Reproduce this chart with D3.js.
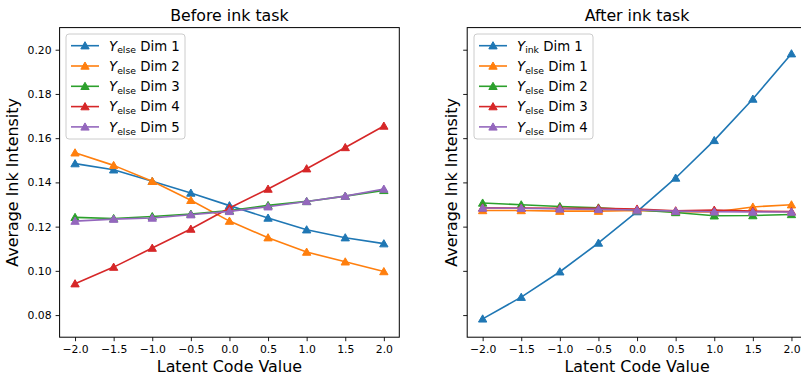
<!DOCTYPE html>
<html>
<head>
<meta charset="utf-8">
<script src="https://cdn.jsdelivr.net/npm/d3@7"></script>
<style>
  body { margin: 0; background: #fff; }
  svg { display: block; font-family: "DejaVu Sans", sans-serif; }
</style>
</head>
<body>
<svg id="chart" width="801" height="377"></svg>
<script>
// ---- data ----
const latent = [-2.0, -1.5, -1.0, -0.5, 0.0, 0.5, 1.0, 1.5, 2.0];
const xTicks = [-2.0, -1.5, -1.0, -0.5, 0.0, 0.5, 1.0, 1.5, 2.0];
const yTicks = [0.08, 0.10, 0.12, 0.14, 0.16, 0.18, 0.20];
const colors = ["#1f77b4", "#ff7f0e", "#2ca02c", "#d62728", "#9467bd"];

// Before ink task
const beforeElse1 = [0.1485, 0.1457, 0.1405, 0.1352, 0.1295, 0.1239, 0.1186, 0.1150, 0.1123];
const beforeElse2 = [0.1534, 0.1477, 0.1405, 0.1319, 0.1225, 0.1150, 0.1085, 0.1041, 0.0997];
const beforeElse3 = [0.1242, 0.1237, 0.1246, 0.1257, 0.1273, 0.1296, 0.1314, 0.1338, 0.1364];
const beforeElse4 = [0.0942, 0.1017, 0.1103, 0.1189, 0.1284, 0.1370, 0.1462, 0.1558, 0.1655];
const beforeElse5 = [0.1225, 0.1234, 0.1239, 0.1254, 0.1269, 0.1290, 0.1314, 0.1338, 0.1370];
const beforeLabels = [["Y", "else", " Dim 1"], ["Y", "else", " Dim 2"], ["Y", "else", " Dim 3"], ["Y", "else", " Dim 4"], ["Y", "else", " Dim 5"]];

// After ink task
const afterInk1  = [0.0783, 0.0881, 0.0996, 0.1126, 0.1268, 0.1420, 0.1590, 0.1777, 0.1982];
const afterElse1 = [0.1273, 0.1273, 0.1270, 0.1270, 0.1273, 0.1268, 0.1266, 0.1289, 0.1299];
const afterElse2 = [0.1307, 0.1299, 0.1291, 0.1285, 0.1275, 0.1264, 0.1249, 0.1250, 0.1255];
const afterElse3 = [0.1285, 0.1284, 0.1283, 0.1283, 0.1280, 0.1272, 0.1275, 0.1270, 0.1268];
const afterElse4 = [0.1284, 0.1283, 0.1280, 0.1278, 0.1275, 0.1270, 0.1267, 0.1266, 0.1266];
const afterLabels = [["Y", "ink", " Dim 1"], ["Y", "else", " Dim 1"], ["Y", "else", " Dim 2"], ["Y", "else", " Dim 3"], ["Y", "else", " Dim 4"]];

const panels = [
  { title: "Before ink task", series: [beforeElse1, beforeElse2, beforeElse3, beforeElse4, beforeElse5], labels: beforeLabels, left: 59.6, showYLabels: true, yLabelX: 18, legendX: 66 },
  { title: "After ink task", series: [afterInk1, afterElse1, afterElse2, afterElse3, afterElse4], labels: afterLabels, left: 467.2, showYLabels: false, yLabelX: 456.5, legendX: 474 }
];

const svg = d3.select("#chart");
const W = 339.7, plotTop = 27.6, plotBottom = 337.2;
const y = d3.scaleLinear().domain([0.07, 0.21]).range([plotBottom, plotTop]);
const fmtX = d => d3.format(".1f")(d).replace("-", "\u2212");
const fmtY = d3.format(".2f");
const tri = d3.symbol().type(d3.symbolTriangle).size(30);

panels.forEach(p => {
  const x = d3.scaleLinear().domain([-2.2, 2.2]).range([p.left, p.left + W]);
  const g = svg.append("g");

  // x axis
  const xa = g.append("g").attr("transform", `translate(0,${plotBottom})`)
    .call(d3.axisBottom(x).tickValues(xTicks).tickSize(4).tickPadding(4).tickFormat(fmtX));
  xa.select(".domain").remove();
  xa.selectAll("line").attr("stroke", "#000").attr("stroke-width", 0.9);
  xa.selectAll("text").attr("font-size", 10.8).attr("fill", "#000").attr("font-family", "DejaVu Sans");

  // y axis
  const ya = g.append("g").attr("transform", `translate(${p.left},0)`)
    .call(d3.axisLeft(y).tickValues(yTicks).tickSize(4).tickPadding(4).tickFormat(p.showYLabels ? fmtY : () => ""));
  ya.select(".domain").remove();
  ya.selectAll("line").attr("stroke", "#000").attr("stroke-width", 0.9);
  ya.selectAll("text").attr("font-size", 10.8).attr("fill", "#000").attr("font-family", "DejaVu Sans");

  // series
  p.series.forEach((vals, i) => {
    const pts = latent.map((v, k) => [x(v), y(vals[k])]);
    g.append("path").attr("d", d3.line()(pts)).attr("fill", "none")
      .attr("stroke", colors[i]).attr("stroke-width", 1.6).attr("stroke-linejoin", "round");
    g.selectAll(null).data(pts).enter().append("path")
      .attr("d", tri).attr("transform", d => `translate(${d[0]},${d[1] + 0.8})`)
      .attr("fill", colors[i]).attr("stroke", colors[i]).attr("stroke-width", 1);
  });

  // frame
  g.append("rect").attr("x", p.left).attr("y", plotTop).attr("width", W).attr("height", plotBottom - plotTop)
    .attr("fill", "none").attr("stroke", "#000").attr("stroke-width", 1);

  // title & labels
  const cx = p.left + W / 2;
  svg.append("text").attr("x", cx).attr("y", 21).attr("text-anchor", "middle")
    .attr("font-size", 15.8).text(p.title);
  svg.append("text").attr("x", cx).attr("y", 371.7).attr("text-anchor", "middle")
    .attr("font-size", 15.9).text("Latent Code Value");
  svg.append("text").attr("transform", `translate(${p.yLabelX},${(plotTop + plotBottom) / 2}) rotate(-90)`)
    .attr("text-anchor", "middle").attr("font-size", 15.9).text("Average Ink Intensity");

  // legend
  const lx = p.legendX, ly = 34, lw = 119, lh = 105, rowH = 20.3;
  const lg = svg.append("g");
  lg.append("rect").attr("x", lx).attr("y", ly).attr("width", lw).attr("height", lh)
    .attr("rx", 3).attr("fill", "#fff").attr("fill-opacity", 0.8).attr("stroke", "#ccc").attr("stroke-width", 1);
  p.labels.forEach((lab, i) => {
    const ry = ly + 11.7 + i * rowH;
    lg.append("line").attr("x1", lx + 5).attr("x2", lx + 33).attr("y1", ry).attr("y2", ry)
      .attr("stroke", colors[i]).attr("stroke-width", 1.6);
    lg.append("path").attr("d", tri).attr("transform", `translate(${lx + 19},${ry + 0.8})`)
      .attr("fill", colors[i]).attr("stroke", colors[i]).attr("stroke-width", 1);
    const t = lg.append("text").attr("x", lx + 43).attr("y", ry + 4.8).attr("font-size", 13.3);
    t.append("tspan").attr("font-style", "italic").text(lab[0]);
    t.append("tspan").attr("font-size", 9.3).attr("dy", 2.8).text(lab[1]);
    t.append("tspan").attr("dy", -2.8).text(lab[2]);
  });
});
</script>
</body>
</html>
